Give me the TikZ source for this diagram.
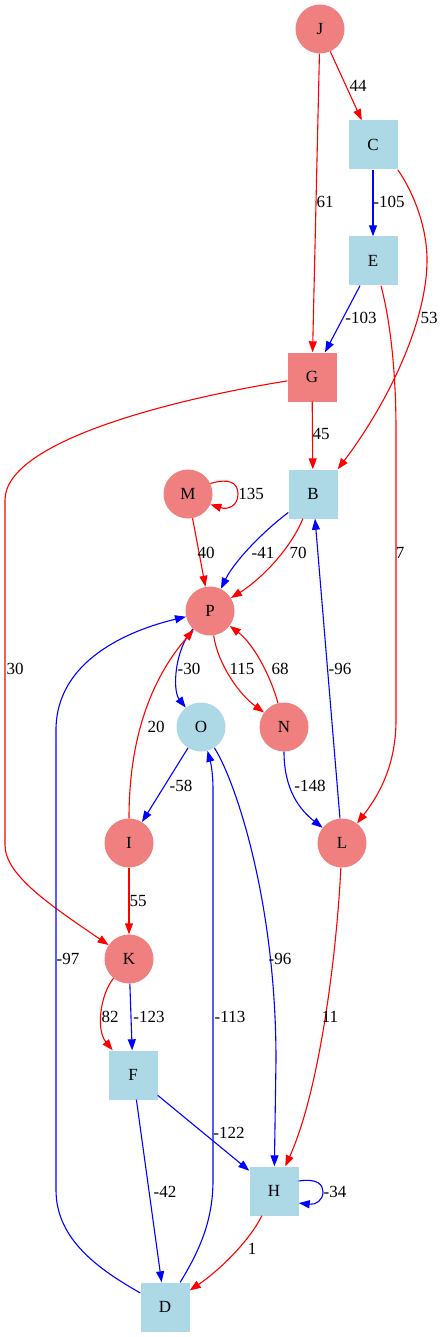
\documentclass[tikz,border=0pt]{standalone}
\usepackage{fontspec}
\setmainfont{Liberation Serif}
\usetikzlibrary{arrows.meta}
\definecolor{lcoral}{HTML}{F08080}
\definecolor{lblue}{HTML}{ADD8E6}
\begin{document}
\begin{tikzpicture}[x=1pt,y=-1pt,
  every node/.style={font=\fontsize{17}{20}\selectfont},
  ccirc/.style={circle, fill=lcoral, minimum size=49pt, inner sep=0pt},
  bcirc/.style={circle, fill=lblue, minimum size=49pt, inner sep=0pt},
  csq/.style={rectangle, fill=lcoral, minimum size=49pt, inner sep=0pt},
  bsq/.style={rectangle, fill=lblue, minimum size=49pt, inner sep=0pt},
  re/.style={color=red, line width=1.1pt, -{Triangle[length=11pt,width=8pt]}},
  be/.style={color=blue, line width=1.1pt, -{Triangle[length=11pt,width=8pt]}},
  lbl/.style={inner sep=0pt, text=black}
]
\useasboundingbox (0,0) rectangle (444,1337);
% nodes
\node[ccirc] (J) at (320,29) {J};
\node[bsq] (C) at (373,145) {C};
\node[bsq] (E) at (373,261) {E};
\node[csq] (G) at (312,377) {G};
\node[bsq] (B) at (313,494) {B};
\node[ccirc] (M) at (188,494) {M};
\node[ccirc] (P) at (210,611) {P};
\node[bcirc] (O) at (201,727) {O};
\node[ccirc] (N) at (284,727) {N};
\node[ccirc] (I) at (129,843) {I};
\node[ccirc] (L) at (342,843) {L};
\node[ccirc] (K) at (129,959) {K};
\node[bsq] (F) at (133,1075) {F};
\node[bsq] (H) at (274,1191) {H};
\node[bsq] (D) at (165,1307) {D};
% edges
\draw[re] (J) -- (C) node[lbl] (l1) at (358,86) {44};
\draw[re] (J) -- (G) node[lbl] (l2) at (325,202) {61};
\draw[be] (C) -- (E) node[lbl] (l3) at (389,202) {-105};
\draw[be] (E) -- (G) node[lbl] (l4) at (361,318) {-103};
\draw[re] (C.south east) .. controls (412,190) and (427,225) .. (427,260)
  .. controls (427,320) and (390,400) .. (B.north east) node[lbl] (l5) at (429,318) {53};
\draw[re] ([xshift=8pt]E.south) .. controls (390,320) and (396,370) .. (396,430)
  -- (396,720) .. controls (396,770) and (375,800) .. (L) node[lbl] (l6) at (400,553) {7};
\draw[re] (G) .. controls (180,398) and (5,440) .. (5,500) -- (5,845)
  .. controls (5,875) and (50,905) .. (K) node[lbl] (l7) at (15,669) {30};
\draw[re] (G) -- (B) node[lbl] (l8) at (321,434) {45};
\draw[re] (M.25) .. controls (228,478) and (238,482) .. (238,494)
  .. controls (238,506) and (228,510) .. (M.-25) node[lbl] (l9) at (251,494) {135};
\draw[re] (M) -- (P) node[lbl] (l10) at (206,553) {40};
\draw[be] (B) .. controls (265,530) and (235,560) .. (P) node[lbl] (l11) at (263,553) {-41};
\draw[re] (B) .. controls (290,550) and (260,580) .. (P) node[lbl] (l12) at (298,553) {70};
\draw[be] (P) .. controls (175,648) and (172,690) .. (O) node[lbl] (l13) at (189,669) {-30};
\draw[re] (P) .. controls (218,665) and (240,695) .. (N) node[lbl] (l14) at (242,669) {115};
\draw[re] (N) .. controls (272,680) and (255,645) .. (P) node[lbl] (l15) at (280,669) {68};
\draw[re] (I) .. controls (129,740) and (150,680) .. (P) node[lbl] (l16) at (156,727) {20};
\draw[be] (D) .. controls (100,1270) and (56,1240) .. (56,1190) -- (56,730)
  .. controls (56,660) and (130,630) .. (P) node[lbl] (l17) at (68,959) {-97};
\draw[be] (O) -- (I) node[lbl] (l18) at (181,786) {-58};
\draw[be] (N) .. controls (284,790) and (300,810) .. (L) node[lbl] (l19) at (310,786) {-148};
\draw[be] (L) -- (B) node[lbl] (l20) at (340,669) {-96};
\draw[be] (O) .. controls (235,780) and (276,900) .. (276,1060) -- (H) node[lbl] (l21) at (280,959) {-96};
\draw[be] (D) .. controls (200,1250) and (213,1220) .. (213,1180) -- (213,790)
  .. controls (213,770) and (210,760) .. (O) node[lbl] (l22) at (230,1017) {-113};
\draw[re] (I) -- (K) node[lbl] (l23) at (138,901) {55};
\draw[re] (K) .. controls (100,995) and (96,1030) .. (F) node[lbl] (l24) at (110,1017) {82};
\draw[be] (K) -- (F) node[lbl] (l25) at (149,1017) {-123};
\draw[be] (F) -- (H) node[lbl] (l26) at (229,1133) {-122};
\draw[be] (F) -- (D) node[lbl] (l27) at (165,1192) {-42};
\draw[be] ([yshift=10pt]H.east) .. controls (318,1178) and (323,1185) .. (323,1192)
  .. controls (323,1200) and (316,1205) .. ([yshift=-12pt]H.east) node[lbl] (l28) at (335,1192) {-34};
\draw[re] (H) .. controls (250,1240) and (220,1270) .. (D) node[lbl] (l29) at (252,1249) {1};
\draw[re] (L) .. controls (337,950) and (320,1090) .. (H) node[lbl] (l30) at (330,1017) {11};
\end{tikzpicture}
\end{document}
